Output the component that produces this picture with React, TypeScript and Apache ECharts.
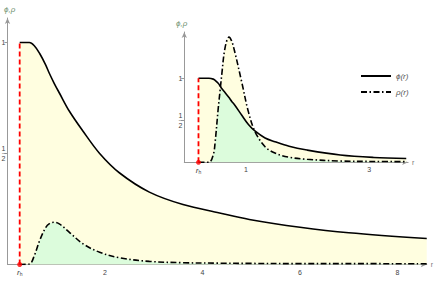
import React, { useEffect, useRef } from "react";
import * as echarts from "echarts";

const mainR = [0.25, 0.45, 0.55, 0.66, 0.78, 0.86, 0.96, 1.07, 1.27, 1.55, 1.89, 2.3, 2.91, 3.6, 4.35, 4.96, 6, 7, 8.6];
const mainPhi = [1, 1, 0.985, 0.95, 0.9, 0.86, 0.815, 0.77, 0.69, 0.6, 0.5, 0.412, 0.326, 0.27, 0.232, 0.203, 0.168, 0.143, 0.117];
const mainRho = [0, 0.002, 0.04, 0.108, 0.165, 0.184, 0.19, 0.182, 0.145, 0.093, 0.055, 0.03, 0.014, 0.008, 0.006, 0.005, 0.004, 0.004, 0.003];
const mainRh = 0.25;

const insetR = [0.23, 0.4, 0.47, 0.5, 0.55, 0.58, 0.607, 0.66, 0.725, 0.77, 0.82, 0.93, 1.04, 1.15, 1.31, 1.47, 1.7, 1.99, 2.53, 3.07, 3.6];
const insetPhi = [1, 1, 0.99, 0.975, 0.94, 0.91, 0.878, 0.83, 0.77, 0.725, 0.68, 0.563, 0.45, 0.37, 0.29, 0.245, 0.19, 0.146, 0.087, 0.058, 0.045];
const insetRho = [0, 0, 0.09, 0.24, 0.64, 0.85, 1.04, 1.36, 1.49, 1.44, 1.31, 0.96, 0.6, 0.36, 0.186, 0.11, 0.06, 0.036, 0.015, 0.01, 0.008];
const insetRh = 0.23;

const mainXTicks = [2, 4, 6, 8];
const insetXTicks = [1, 3];
const yTicks = [0.5, 1];

const YELLOW = "#fffee0";
const GREEN = "#dcfcdc";
const AXIS = "#999999";
const LABEL = "#444444";
const FONT = "Liberation Sans, Arial, sans-serif";
const DASHDOT = [6, 2.5, 1.5, 2.5];

function pairs(r: number[], v: number[]) {
  return r.map((x, i) => [x, v[i]]);
}

function yFormatter(v: number) {
  if (Math.abs(v - 0.5) < 1e-6) return "{n|1}\n{b|–}\n{n|2}";
  return "{n|" + v + "}";
}

function makeAxes(gi: number, xmax: number, ymax: number, xTicks: number[], rh: number) {
  const xAxis = {
    type: "value",
    gridIndex: gi,
    min: 0,
    max: xmax,
    splitLine: { show: false },
    axisLine: {
      onZero: false,
      lineStyle: { color: AXIS, width: 1 },
      symbol: ["none", "arrow"],
      symbolSize: [4, 6],
    },
    axisTick: { show: true, inside: true, length: 3, customValues: xTicks, lineStyle: { color: AXIS } },
    axisLabel: {
      customValues: [rh, ...xTicks],
      fontSize: 7,
      color: LABEL,
      fontFamily: FONT,
      margin: 4,
      formatter: (v: number) => (Math.abs(v - rh) < 1e-6 ? "{i|r}{s|h}" : String(v)),
      rich: {
        i: { fontSize: 8, fontStyle: "italic", color: LABEL, fontFamily: FONT },
        s: { fontSize: 5, color: LABEL, fontFamily: FONT, verticalAlign: "bottom", padding: [3, 0, 0, 0] },
      },
    },
    name: "r",
    nameLocation: "end",
    nameGap: 4,
    nameTextStyle: { fontSize: 7, color: "#777", fontFamily: FONT },
  };
  const yAxis = {
    type: "value",
    gridIndex: gi,
    min: 0,
    max: ymax,
    splitLine: { show: false },
    axisLine: {
      onZero: false,
      lineStyle: { color: AXIS, width: 1 },
      symbol: ["none", "arrow"],
      symbolSize: [4, 6],
    },
    axisTick: { show: true, inside: false, length: 3, customValues: yTicks, lineStyle: { color: AXIS } },
    axisLabel: {
      customValues: yTicks,
      fontSize: 7,
      color: LABEL,
      fontFamily: FONT,
      margin: 2,
      formatter: yFormatter,
      rich: {
        n: { fontSize: 7, lineHeight: 7, color: LABEL, fontFamily: FONT, align: "center" },
        b: { fontSize: 6, lineHeight: 3, color: LABEL, fontFamily: FONT, align: "center" },
      },
    },
  };
  return { xAxis, yAxis };
}

function makeSeries(gi: number, r: number[], phi: number[], rho: number[], rh: number, phiName: string, rhoName: string) {
  const hi = r.map((x, i) => [x, Math.max(phi[i], rho[i])]);
  const lo = r.map((x, i) => [x, Math.min(phi[i], rho[i])]);
  const sm = 0.35;
  const base = { type: "line", xAxisIndex: gi, yAxisIndex: gi, symbol: "none", smooth: sm, silent: true };
  return [
    { ...base, name: "hi" + gi, data: hi, lineStyle: { width: 0, opacity: 0 }, areaStyle: { color: YELLOW, opacity: 1, origin: 0 }, z: 1 },
    { ...base, name: "lo" + gi, data: lo, lineStyle: { width: 0, opacity: 0 }, areaStyle: { color: GREEN, opacity: 1, origin: 0 }, z: 2 },
    { ...base, name: rhoName, data: pairs(r, rho), lineStyle: { color: "#000", width: 1.6, type: DASHDOT }, itemStyle: { color: "#000" }, z: 4 },
    { ...base, name: phiName, data: pairs(r, phi), lineStyle: { color: "#000", width: 1.6, type: "solid" }, itemStyle: { color: "#000" }, z: 5 },
    { ...base, smooth: false, name: "rh" + gi, data: [[rh, 0], [rh, 1]], lineStyle: { color: "#ff0000", width: 1.8, type: [5, 3] }, z: 6 },
    {
      type: "scatter", xAxisIndex: gi, yAxisIndex: gi, name: "dot" + gi, data: [[rh, 0]],
      symbolSize: 5, itemStyle: { color: "#ff0000" }, silent: true, z: 7,
    },
  ];
}

export default function App() {
  const ref = useRef<HTMLDivElement>(null);
  useEffect(() => {
    if (!ref.current) return;
    const chart = echarts.init(ref.current, undefined, { renderer: "svg" });
    const m = makeAxes(0, 8.6, 1.11, mainXTicks, mainRh);
    const s = makeAxes(1, 3.63, 1.551, insetXTicks, insetRh);
    chart.setOption({
      animation: false,
      backgroundColor: "#ffffff",
      grid: [
        { left: 7.5, top: 18, width: 419.25, height: 246.5, containLabel: false, outerBoundsMode: "none" },
        { left: 184.3, top: 32, width: 223.8, height: 130.3, containLabel: false, outerBoundsMode: "none" },
      ],
      xAxis: [m.xAxis, s.xAxis],
      yAxis: [m.yAxis, s.yAxis],
      legend: {
        data: ["ϕ(r)", "ρ(r)"],
        orient: "vertical",
        left: 355,
        top: 67,
        itemWidth: 30,
        itemHeight: 8,
        itemGap: 8,
        selectedMode: false,
        itemStyle: { color: "transparent", borderWidth: 0, opacity: 0 },
        textStyle: { fontSize: 8, color: "#555", fontStyle: "italic", fontFamily: FONT },
      },
      graphic: [
        { type: "text", left: 4, top: 5, style: { text: "ϕ,ρ", fontSize: 8, fontStyle: "italic", fill: "#6f916f", fontFamily: FONT } },
        { type: "text", left: 176, top: 19, style: { text: "ϕ,ρ", fontSize: 8, fontStyle: "italic", fill: "#6f916f", fontFamily: FONT } },
      ],
      series: [
        ...makeSeries(0, mainR, mainPhi, mainRho, mainRh, "mphi", "mrho"),
        ...makeSeries(1, insetR, insetPhi, insetRho, insetRh, "ϕ(r)", "ρ(r)"),
      ],
    });
    return () => chart.dispose();
  }, []);
  return <div ref={ref} style={{ width: 436, height: 284, position: "absolute", left: 0, top: 0 }} />;
}
